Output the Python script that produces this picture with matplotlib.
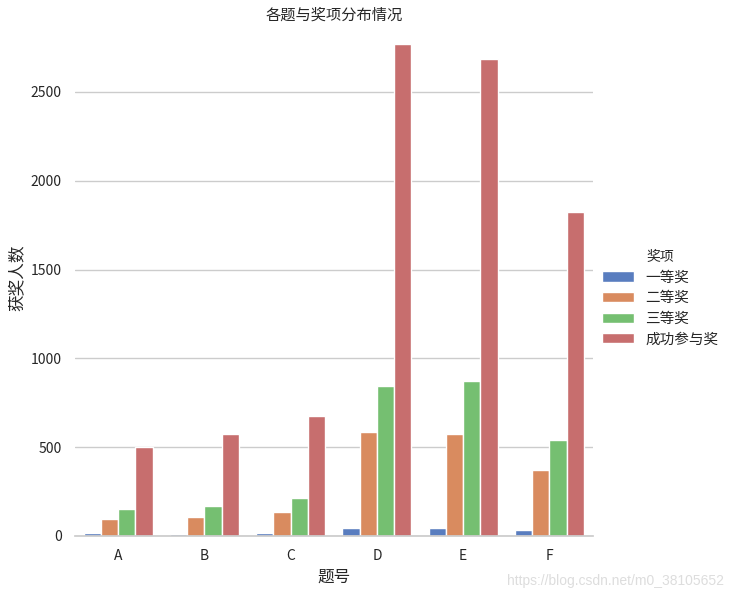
import numpy as np
import pandas as pd
import seaborn as sns
import matplotlib
matplotlib.use("Agg")
import matplotlib.pyplot as plt

# 各题与奖项分布
questions = ["A", "B", "C", "D", "E", "F"]
awards = ["一等奖", "二等奖", "三等奖", "成功参与奖"]
first_prize = [17, 10, 17, 45, 45, 34]
second_prize = [96, 107, 135, 586, 574, 372]
third_prize = [152, 169, 214, 845, 873, 541]
participation = [500, 574, 676, 2770, 2686, 1824]

rows = []
for vals, aw in zip([first_prize, second_prize, third_prize, participation], awards):
    for q, v in zip(questions, vals):
        rows.append({"题号": q, "奖项": aw, "获奖人数": v})
df = pd.DataFrame(rows)

sns.set_theme(style="whitegrid", palette="muted")
plt.rcParams['font.family'] = ['Noto Sans CJK SC', 'DejaVu Sans']
plt.rcParams['axes.unicode_minus'] = False

fig = plt.figure(figsize=(7.31, 6), dpi=100)
ax = fig.add_axes([0.1026, 0.1067, 0.708, 0.861])
sns.barplot(data=df, x="题号", y="获奖人数", hue="奖项", order=questions,
            hue_order=awards, palette="muted", ax=ax, edgecolor="white",
            linewidth=1, errorbar=None, saturation=0.75)
sns.despine(ax=ax, left=True)
ax.spines['bottom'].set_color('#cccccc')
ax.grid(axis='x', visible=False)
ax.set_yticks([0, 500, 1000, 1500, 2000, 2500])
ax.tick_params(labelsize=10)
ax.set_xlabel("题号", fontsize=12)
ax.set_ylabel("获奖人数", fontsize=12)
ax.set_title("各题与奖项分布情况", fontsize=11, pad=0)

handles, labels = ax.get_legend_handles_labels()
ax.get_legend().remove()
leg = fig.legend(handles, labels, title="奖项", loc="center left",
                 bbox_to_anchor=(0.805, 0.503), frameon=False, fontsize=10.5,
                 title_fontsize=10, handlelength=2.2, labelspacing=0.45)

fig.text(0.99, 0.02, "https://blog.csdn.net/m0_38105652", ha="right", va="bottom",
         color="#dddddd", fontsize=10, family=["Liberation Sans", "DejaVu Sans"])

fig.savefig("out.png", dpi=100)
